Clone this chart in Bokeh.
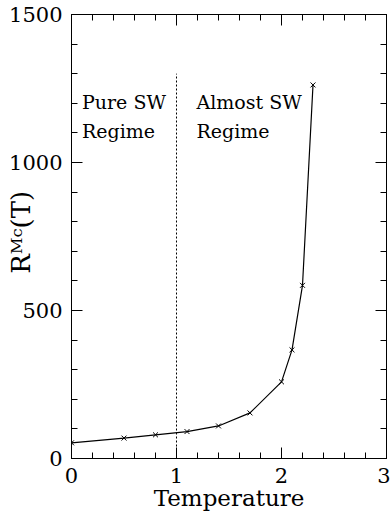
from bokeh.plotting import figure
from bokeh.models import LinearAxis, FixedTicker, Range1d, Label
from bokeh.embed import file_html
from bokeh.resources import INLINE

# ---- data ----
temperature = [0.0, 0.5, 0.8, 1.1, 1.4, 1.7, 2.0, 2.1, 2.2, 2.3]
r_mc = [53, 69, 80, 91, 110, 154, 259, 367, 585, 1262]

x_ticks = [0, 1, 2, 3]
x_minor = [0.2, 0.4, 0.6, 0.8, 1.2, 1.4, 1.6, 1.8, 2.2, 2.4, 2.6, 2.8]
y_ticks = [0, 500, 1000, 1500]
y_minor = [100, 200, 300, 400, 600, 700, 800, 900, 1100, 1200, 1300, 1400]

boundary_T = [1.0]
boundary_bottom = [0]
boundary_top = [1300]

x_title = "Temperature"
y_title = "\u00a0R\u1d39\u1d9c(T)"

FONT = "DejaVu Serif"

p = figure(width=390, height=516, output_backend="svg", toolbar_location=None,
           x_range=Range1d(0, 3), y_range=Range1d(0, 1500),
           min_border_left=71, min_border_right=4, min_border_top=14,
           min_border_bottom=58)
p.background_fill_color = "white"
p.border_fill_color = "white"
p.outline_line_color = "black"
p.outline_line_width = 1
p.grid.visible = False

xt = FixedTicker(ticks=x_ticks, minor_ticks=x_minor)
yt = FixedTicker(ticks=y_ticks, minor_ticks=y_minor)


def style(ax, standoff):
    ax.axis_line_color = "black"
    ax.axis_line_width = 1
    ax.major_tick_line_color = "black"
    ax.minor_tick_line_color = "black"
    ax.major_tick_in = 11
    ax.major_tick_out = 0
    ax.minor_tick_in = 6
    ax.minor_tick_out = 0
    ax.major_label_text_font = FONT
    ax.major_label_text_color = "black"
    ax.major_label_text_font_size = "21px"
    ax.major_label_standoff = standoff
    ax.axis_label_text_font = FONT
    ax.axis_label_text_font_style = "normal"
    ax.axis_label_text_color = "black"


p.xaxis.ticker = xt
p.yaxis.ticker = yt
bx = p.xaxis[0]
ly = p.yaxis[0]
style(bx, 9)
style(ly, 9)
bx.axis_label = x_title
bx.axis_label_text_font_size = "23px"
bx.axis_label_standoff = -1
ly.axis_label = y_title
ly.axis_label_text_font_size = "26px"
ly.axis_label_standoff = -30

top = LinearAxis(ticker=xt)
right = LinearAxis(ticker=yt)
style(top, 0)
style(right, 0)
top.major_label_overrides = {t: "" for t in x_ticks}
right.major_label_overrides = {t: "" for t in y_ticks}
p.add_layout(top, "above")
p.add_layout(right, "right")

# regime boundary
p.segment(x0=boundary_T, y0=boundary_bottom, x1=boundary_T, y1=boundary_top,
          line_color="black", line_width=1, line_dash="2 2")

# data
p.line(temperature, r_mc, line_color="black", line_width=1.2)
p.scatter(temperature, r_mc, marker="x", size=7, line_color="black", line_width=1)

# annotations
for txt, x, y in [("Pure SW", 0.10, 1204), ("Regime", 0.10, 1105),
                  ("Almost SW", 1.19, 1204), ("Regime", 1.19, 1105)]:
    p.add_layout(Label(x=x, y=y, text=txt, text_font=FONT, text_font_size="19px",
                       text_color="black", text_align="left", text_baseline="alphabetic"))

open("out.html", "w").write(file_html(p, INLINE))
